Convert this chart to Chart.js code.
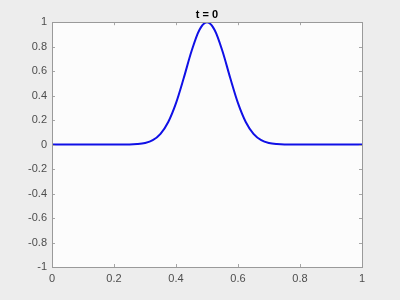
<!DOCTYPE html>
<html>
<head>
<meta charset="utf-8">
<script src="https://cdn.jsdelivr.net/npm/chart.js@4.4.1/dist/chart.umd.min.js"></script>
<style>
  html, body { margin: 0; padding: 0; background: #ededed; }
  #wrap { width: 400px; height: 300px; }
</style>
</head>
<body>
<div id="wrap"><canvas id="myChart"></canvas></div>
<script>
// pulse
const xs = [0, 0.1, 0.2, 0.225, 0.25, 0.275, 0.3, 0.325, 0.35, 0.375, 0.4, 0.425, 0.45, 0.475, 0.5,
  0.525, 0.55, 0.575, 0.6, 0.625, 0.65, 0.675, 0.7, 0.725, 0.75, 0.775, 0.8, 0.9, 1];
const ys = [0, 0, 0, 0.001, 0.001, 0.004, 0.013, 0.036, 0.088, 0.185, 0.339, 0.544, 0.763, 0.935, 1,
  0.935, 0.763, 0.544, 0.339, 0.185, 0.088, 0.036, 0.013, 0.004, 0.001, 0.001, 0, 0, 0];
const xTicks = [0, 0.2, 0.4, 0.6, 0.8, 1];
const yTicks = [-1, -0.8, -0.6, -0.4, -0.2, 0, 0.2, 0.4, 0.6, 0.8, 1];
const title = "t = 0";

const points = xs.map((x, i) => ({ x: x, y: ys[i] }));

// white axes box, with inward ticks on all four sides
const axesBox = {
  id: "axesBox",
  beforeDatasetsDraw(chart) {
    const { ctx, chartArea: a } = chart;
    ctx.save();
    ctx.fillStyle = "#fcfcfc";
    ctx.fillRect(a.left, a.top, a.right - a.left, a.bottom - a.top);
    ctx.restore();
  },
  afterDatasetsDraw(chart) {
    const { ctx, chartArea: a, scales } = chart;
    ctx.save();
    ctx.strokeStyle = "#a6a6a6";
    ctx.lineWidth = 1;
    ctx.beginPath();
    scales.x.ticks.forEach((t) => {
      const px = Math.round(scales.x.getPixelForValue(t.value)) + 0.5;
      ctx.moveTo(px, a.bottom); ctx.lineTo(px, a.bottom - 3);
      ctx.moveTo(px, a.top); ctx.lineTo(px, a.top + 3);
    });
    scales.y.ticks.forEach((t) => {
      const py = Math.round(scales.y.getPixelForValue(t.value)) + 0.5;
      ctx.moveTo(a.left, py); ctx.lineTo(a.left + 3, py);
      ctx.moveTo(a.right, py); ctx.lineTo(a.right - 3, py);
    });
    ctx.stroke();
    ctx.strokeStyle = "#9a9a9a";
    ctx.strokeRect(Math.round(a.left) + 0.5, Math.round(a.top) + 0.5,
      Math.round(a.right - a.left), Math.round(a.bottom - a.top));
    ctx.restore();
  },
};

new Chart(document.getElementById("myChart"), {
  type: "line",
  data: {
    datasets: [
      {
        data: points,
        borderColor: "#1010e6",
        borderWidth: 2,
        pointRadius: 0,
        cubicInterpolationMode: "monotone",
        fill: false,
      },
    ],
  },
  options: {
    responsive: true,
    maintainAspectRatio: false,
    animation: false,
    layout: { padding: { left: 0, right: 38, top: 0, bottom: 0 } },
    scales: {
      x: {
        type: "linear",
        min: 0,
        max: 1,
        afterBuildTicks: (s) => { s.ticks = xTicks.map((v) => ({ value: v })); },
        afterFit: (s) => { s.height = 33; },
        grid: { display: false, drawTicks: false },
        border: { display: false },
        ticks: {
          padding: 5,
          color: "#4d4d4d",
          font: { family: "Liberation Sans, Arial", size: 11 },
          callback: (v) => String(v),
        },
      },
      y: {
        min: -1,
        max: 1,
        afterBuildTicks: (s) => { s.ticks = yTicks.map((v) => ({ value: v })); },
        afterFit: (s) => { s.width = 52; },
        grid: { display: false, drawTicks: false },
        border: { display: false },
        ticks: {
          padding: 5,
          color: "#4d4d4d",
          font: { family: "Liberation Sans, Arial", size: 11 },
          callback: (v) => String(v),
        },
      },
    },
    plugins: {
      legend: { display: false },
      tooltip: { enabled: false },
      title: {
        display: true,
        text: title,
        fullSize: false,
        color: "#000",
        font: { family: "Liberation Sans, Arial", size: 11, weight: "bold" },
        padding: { top: 8, bottom: 1 },
      },
    },
  },
  plugins: [axesBox],
});
</script>
</body>
</html>
